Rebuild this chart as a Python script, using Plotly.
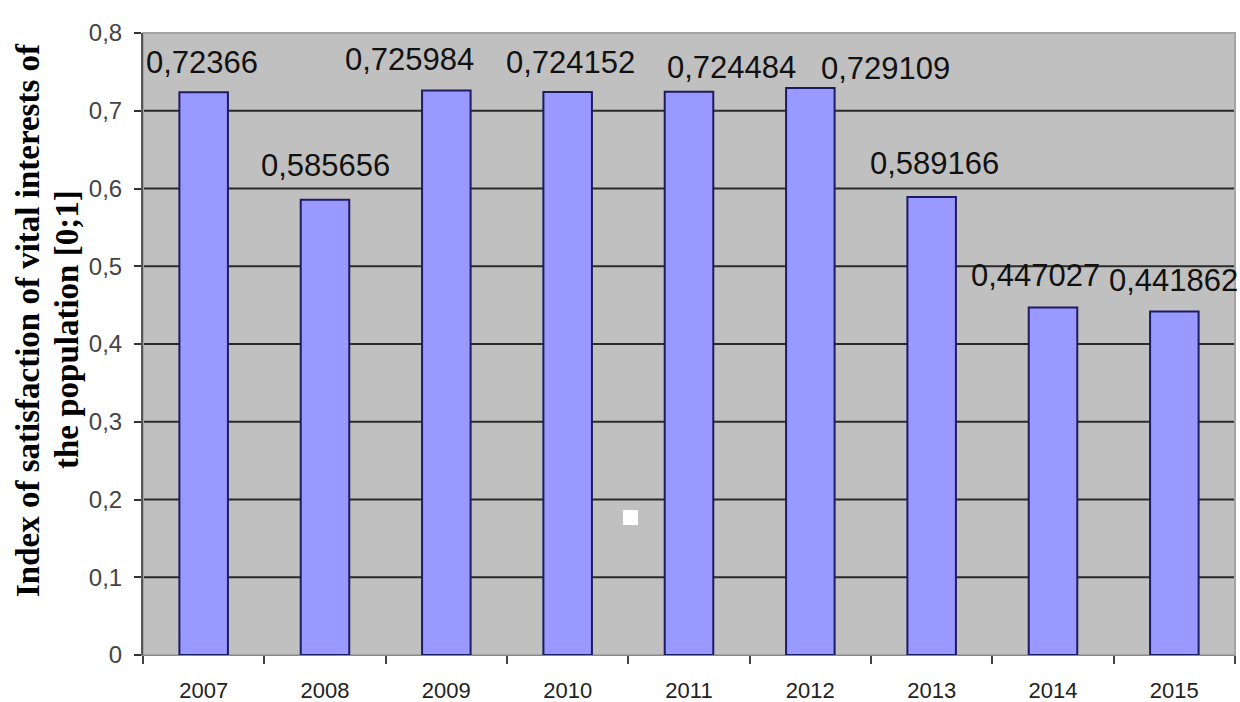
import plotly.graph_objects as go

# ---- data ----
years = ["2007", "2008", "2009", "2010", "2011", "2012", "2013", "2014", "2015"]
values = [0.72366, 0.585656, 0.725984, 0.724152, 0.724484, 0.729109, 0.589166, 0.447027, 0.441862]
y_ticks = [0, 0.1, 0.2, 0.3, 0.4, 0.5, 0.6, 0.7, 0.8]
y_tick_labels = ["0", "0,1", "0,2", "0,3", "0,4", "0,5", "0,6", "0,7", "0,8"]
title_lines = ["Index of satisfaction of vital interests of", "the population [0;1]"]

# ---- label placement offsets (px, style only) ----
label_dx = [-2, 0, -37, 3, 42, 75, 3, -18, -1]
label_dy = [30, 34, 31, 29, 24, 20, 33, 32, 31]

W, H = 1240, 702
ML, MR, MT, MB = 143, 5, 33, 47
SANS = "Liberation Sans, Arial, sans-serif"
SERIF = "Liberation Serif, Times New Roman, serif"

fig = go.Figure()
fig.add_trace(go.Bar(
    x=years, y=values, width=0.4,
    marker=dict(color="#9999FF", line=dict(color="#1C1C62", width=2)),
    hoverinfo="x+y",
))

# horizontal gridlines (0.1 .. 0.7)
for t in y_ticks[1:-1]:
    fig.add_shape(type="line", xref="paper", x0=0, x1=1, yref="y", y0=t, y1=t,
                  line=dict(color="#2a2a2a", width=2), layer="below")

# plot border (light)
fig.add_shape(type="rect", xref="paper", yref="paper", x0=0, x1=1, y0=0, y1=1,
              line=dict(color="#a4a4a4", width=2), layer="below")

# data labels (x given as category index)
for i, v in enumerate(values):
    fig.add_annotation(x=i, y=v, xref="x", yref="y", text=str(v).replace(".", ","),
                       showarrow=False, xanchor="center", yanchor="middle",
                       xshift=label_dx[i], yshift=label_dy[i],
                       font=dict(family=SANS, size=31, color="#111111"))

# y-axis title, two lines
fig.add_annotation(xref="paper", yref="paper", x=0, y=0.5, xshift=-115, yshift=24,
                   xanchor="center", yanchor="middle",
                   text="<b>%s</b>" % title_lines[0], textangle=-90, showarrow=False,
                   font=dict(family=SERIF, size=33, color="#000000"))
fig.add_annotation(xref="paper", yref="paper", x=0, y=0.5, xshift=-76, yshift=14,
                   xanchor="center", yanchor="middle",
                   text="<b>%s</b>" % title_lines[1], textangle=-90, showarrow=False,
                   font=dict(family=SERIF, size=33, color="#000000"))

# small white artifact square seen in the source image
fig.add_shape(type="rect", xref="paper", yref="paper",
              x0=(623 - ML) / (W - ML - MR), x1=(638 - ML) / (W - ML - MR),
              y0=(H - MB - 525) / (H - MT - MB), y1=(H - MB - 510) / (H - MT - MB),
              fillcolor="#ffffff", line=dict(width=0), layer="above")

fig.update_layout(
    width=W, height=H,
    margin=dict(l=ML, r=MR, t=MT, b=MB),
    paper_bgcolor="#ffffff",
    plot_bgcolor="#c0c0c0",
    showlegend=False,
    bargap=0.6,
    font=dict(family=SANS),
)
fig.update_xaxes(
    type="category", categoryorder="array", categoryarray=years,
    range=[-0.5, len(years) - 0.5], autorange=False, automargin=False,
    showgrid=False, showline=True, linecolor="#8a8a8a", linewidth=1,
    ticks="outside", tickson="boundaries", ticklen=8, tickwidth=2, tickcolor="#444444",
    tickangle=0, tickfont=dict(family=SANS, size=22, color="#222222"), ticklabelstandoff=16,
)
fig.update_yaxes(
    range=[0, 0.8], autorange=False, automargin=False, tickvals=y_ticks, ticktext=y_tick_labels,
    showgrid=False, zeroline=False, showline=True, linecolor="#555555", linewidth=2,
    ticks="outside", ticklen=7, tickwidth=2, tickcolor="#333333",
    tickfont=dict(family=SANS, size=24, color="#444444"), ticklabelstandoff=7,
)

fig.write_html("out.html", config={"displayModeBar": False},
               post_script="document.body.style.margin='0px';")
